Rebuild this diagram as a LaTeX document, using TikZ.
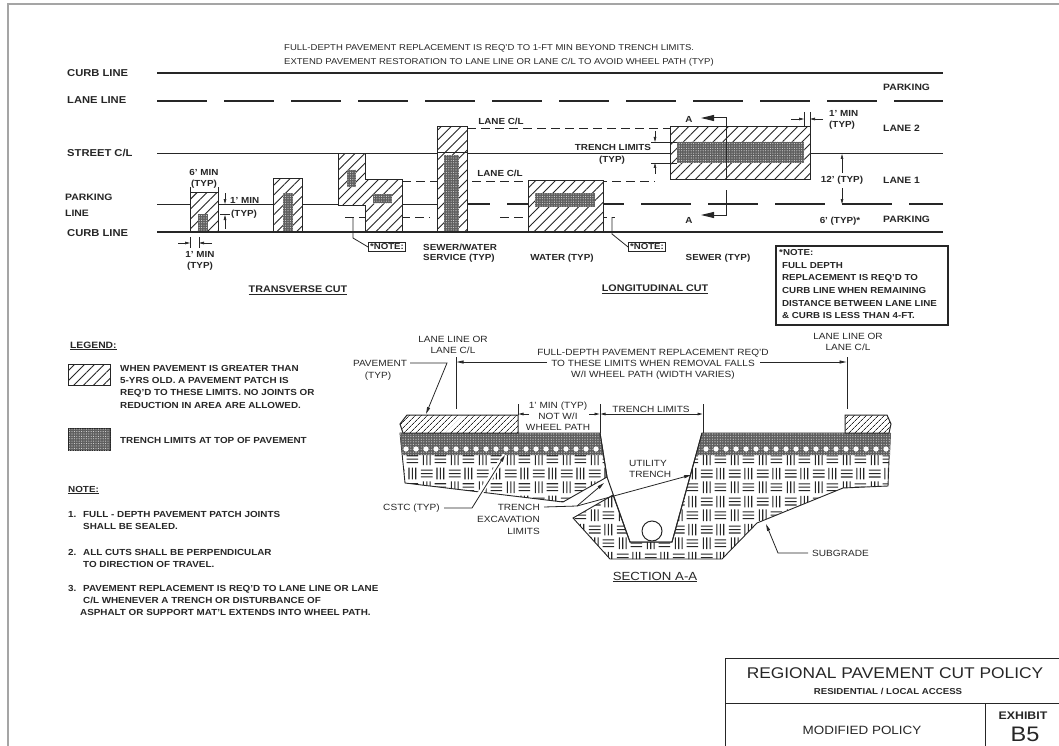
\documentclass[tikz,border=0pt]{standalone}
\usepackage{fontspec}
\setmainfont{Liberation Sans}[FakeStretch=1.12]
\usetikzlibrary{arrows.meta, patterns.meta, positioning}
\definecolor{ink}{RGB}{38, 38, 38}
\definecolor{framegray}{RGB}{165, 165, 165}
\definecolor{trenchgray}{RGB}{95, 95, 95}

% basket weave for soil / subgrade
\pgfdeclarepatternformonly{weave}{\pgfqpoint{0pt}{0pt}}{\pgfqpoint{28pt}{28pt}}{\pgfqpoint{28pt}{28pt}}{%
  \pgfsetlinewidth{1.1pt}%
  \pgfpathmoveto{\pgfqpoint{3.5pt}{1pt}}\pgfpathlineto{\pgfqpoint{3.5pt}{13pt}}%
  \pgfpathmoveto{\pgfqpoint{7pt}{1pt}}\pgfpathlineto{\pgfqpoint{7pt}{13pt}}%
  \pgfpathmoveto{\pgfqpoint{10.5pt}{1pt}}\pgfpathlineto{\pgfqpoint{10.5pt}{13pt}}%
  \pgfpathmoveto{\pgfqpoint{15pt}{3.5pt}}\pgfpathlineto{\pgfqpoint{27pt}{3.5pt}}%
  \pgfpathmoveto{\pgfqpoint{15pt}{7pt}}\pgfpathlineto{\pgfqpoint{27pt}{7pt}}%
  \pgfpathmoveto{\pgfqpoint{15pt}{10.5pt}}\pgfpathlineto{\pgfqpoint{27pt}{10.5pt}}%
  \pgfpathmoveto{\pgfqpoint{1pt}{17.5pt}}\pgfpathlineto{\pgfqpoint{13pt}{17.5pt}}%
  \pgfpathmoveto{\pgfqpoint{1pt}{21pt}}\pgfpathlineto{\pgfqpoint{13pt}{21pt}}%
  \pgfpathmoveto{\pgfqpoint{1pt}{24.5pt}}\pgfpathlineto{\pgfqpoint{13pt}{24.5pt}}%
  \pgfpathmoveto{\pgfqpoint{17.5pt}{15pt}}\pgfpathlineto{\pgfqpoint{17.5pt}{27pt}}%
  \pgfpathmoveto{\pgfqpoint{21pt}{15pt}}\pgfpathlineto{\pgfqpoint{21pt}{27pt}}%
  \pgfpathmoveto{\pgfqpoint{24.5pt}{15pt}}\pgfpathlineto{\pgfqpoint{24.5pt}{27pt}}%
  \pgfusepath{stroke}}

\tikzset{
  curb/.style={ink, line width=2pt},
  laneline/.style={ink, line width=1.1pt, dash pattern=on 50pt off 17pt},
  cline/.style={ink, line width=0.9pt, dash pattern=on 9pt off 5pt},
  road/.style={ink, line width=0.9pt},
  patch/.style={draw=ink, line width=1pt, fill=white, postaction={pattern={Lines[angle=45, distance=7pt, line width=0.9pt]}, pattern color=ink}},
  slab/.style={draw=ink, line width=1pt, fill=white, postaction={pattern={Lines[angle=45, distance=4pt, line width=0.8pt]}, pattern color=ink}},
  trench/.style={fill=trenchgray, postaction={pattern={Dots[distance=2.4pt, radius=0.55pt]}, pattern color=white!85!black}},
  band/.style={fill=trenchgray, postaction={pattern={Dots[distance=2.6pt, radius=0.6pt]}, pattern color=white!80!black}},
  soil/.style={draw=ink, line width=0.9pt, fill=white, postaction={pattern=weave, pattern color=ink}},
  dimarr/.style={ink, line width=0.7pt, -{Triangle[length=5pt, width=2.6pt]}},
  dimboth/.style={ink, line width=0.7pt, {Triangle[length=5pt, width=2.6pt]}-{Triangle[length=5pt, width=2.6pt]}},
  secarr/.style={ink, line width=1pt, -{Triangle[length=13pt, width=6pt]}},
  ldr/.style={ink, line width=0.8pt, -{Triangle[length=7pt, width=3pt]}},
  rowlbl/.style={text=ink, inner sep=0pt, font=\fontsize{10}{12}\selectfont\bfseries},
  lbl/.style={text=ink, inner sep=0pt, font=\fontsize{8.8}{12.4}\selectfont\bfseries},
  hdr/.style={text=ink, inner sep=0pt, font=\fontsize{8.5}{10}\selectfont},
  sec/.style={text=ink, inner sep=0pt, font=\fontsize{9}{11.2}\selectfont},
  notebox/.style={draw=ink, line width=1.1pt, inner sep=1.5pt, text=ink, font=\fontsize{8.6}{10}\selectfont\bfseries}
}

\begin{document}
\begin{tikzpicture}[x=1pt, y=-1pt]
\useasboundingbox (0,0) rectangle (1059,746);
% sheet border
\draw[framegray, line width=1.2pt] (8,746) -- (8,4) -- (1059,4);

% ===== plan view =====
\node[hdr, anchor=west] (head1) at (284,48) {FULL-DEPTH PAVEMENT REPLACEMENT IS REQ'D TO 1-FT MIN BEYOND TRENCH LIMITS.};
\node[hdr, anchor=west] (head2) at (284,62) {EXTEND PAVEMENT RESTORATION TO LANE LINE OR LANE C/L TO AVOID WHEEL PATH (TYP)};

% row names
\node[rowlbl, anchor=west] (curbA) at (67,73) {CURB LINE};
\node[rowlbl, anchor=west] (laneA) at (67,100) {LANE LINE};
\node[rowlbl, anchor=west] (streetcl) at (67,153) {STREET C/L};
\node[rowlbl, anchor=west, font=\fontsize{9.3}{12}\selectfont\bfseries] (parkA) at (65,197) {PARKING};
\node[rowlbl, anchor=west, font=\fontsize{9.3}{12}\selectfont\bfseries] (parkB) at (65,213) {LINE};
\node[rowlbl, anchor=west] (curbB) at (67,233) {CURB LINE};
\node[lbl, anchor=west, font=\fontsize{9.2}{12}\selectfont\bfseries] (zoneA) at (883,87) {PARKING};
\node[lbl, anchor=west, font=\fontsize{9.2}{12}\selectfont\bfseries] (zoneB) at (883,128) {LANE 2};
\node[lbl, anchor=west, font=\fontsize{9.2}{12}\selectfont\bfseries] (zoneC) at (883,180) {LANE 1};
\node[lbl, anchor=west, font=\fontsize{9.2}{12}\selectfont\bfseries] (zoneD) at (883,219) {PARKING};

% road lines
\draw[curb] (157,73) -- (943,73);
\draw[laneline] (157,101) -- (943,101);
\draw[road] (157,153) -- (943,153);
\draw[road] (157,204) -- (440,204);
\draw[laneline] (440,204) -- (943,204);
\draw[cline] (467,128) -- (670,128);
\draw[cline] (402,181) -- (655,181);
\draw[cline] (345,217) -- (430,217);
\draw[cline] (500,217) -- (615,217);

% transverse cuts
\draw[patch] (190,192) rectangle (218,232);
\fill[trench] (198,214) rectangle (208,231);
\draw[patch] (273,179) rectangle (302,232);
\fill[trench] (283,193) rectangle (293,231);
\draw[patch] (338,154) -- (365,154) -- (365,180) -- (402,180) -- (402,232) -- (365,232) -- (365,205) -- (338,205) -- cycle;
\fill[trench] (347,170) rectangle (356,187);
\fill[trench] (373,194) rectangle (392,203);
\draw[patch] (437,127) rectangle (467,153);
\draw[patch] (437,153) rectangle (467,232);
\fill[trench] (444,155) rectangle (459,231);
% longitudinal cuts
\draw[patch] (528,181) rectangle (603,232);
\fill[trench] (535,193) rectangle (595,207);
\draw[patch] (670,127) rectangle (810,180);
\fill[trench] (677,142) rectangle (804,163);
\draw[curb] (157,232) -- (943,232);

% section line A-A
\draw[secarr] (726,180) -- (726,118) -- (701,118);
\draw[secarr] (726,190) -- (726,215) -- (701,215);
\node[lbl] (cutA) at (689,119) {A};
\node[lbl] (cutB) at (689,220) {A};

% dimensions, transverse
\draw[road, line width=0.7pt] (190,187) -- (190,192) (218,187) -- (218,192);
\node[lbl] (w6a) at (204,172) {6' MIN};
\node[lbl] (w6b) at (204,184) {(TYP)};
\draw[dimarr] (225,193) -- (225,204);
\draw[dimarr] (225,229) -- (225,215);
\draw[road, line width=0.7pt] (220,214) -- (230,214);
\node[lbl, anchor=west] (d1a) at (230,200) {1' MIN};
\node[lbl, anchor=west] (d1b) at (231,214) {(TYP)};
\draw[road, line width=0.7pt] (190,237) -- (190,248) (199,237) -- (199,248);
\draw[dimarr] (178,243) -- (190,243);
\draw[dimarr] (212,243) -- (199,243);
\node[lbl] (e1a) at (200,254) {1' MIN};
\node[lbl] (e1b) at (200,266) {(TYP)};

% dimensions, longitudinal
\node[lbl] (lcl1) at (501,121) {LANE C/L};
\node[lbl] (lcl2) at (500,173) {LANE C/L};
\node[lbl] (tl1) at (613,147) {TRENCH LIMITS};
\node[lbl] (tl2) at (612,160) {(TYP)};
\draw[dimarr] (655,131) -- (655,142);
\draw[dimarr] (655,174) -- (655,163);
\draw[road, line width=0.7pt] (651,142) -- (677,142) (651,163) -- (677,163);
\draw[road, line width=0.7pt] (804,112) -- (804,126) (810,112) -- (810,126);
\draw[dimarr] (791,119) -- (804,119);
\draw[dimarr] (823,119) -- (810,119);
\node[lbl, anchor=west] (m1a) at (829,113) {1' MIN};
\node[lbl, anchor=west] (m1b) at (829,125) {(TYP)};
\draw[dimarr] (842,173) -- (842,154);
\draw[dimarr] (842,188) -- (842,204);
\node[lbl] (w12) at (842,180) {12' (TYP)};
\node[lbl] (w6) at (840,221) {6' (TYP)*};

% note flags
\node[notebox] (flagA) at (387,247) {*NOTE:};
\draw[road, line width=0.8pt] (353,217) -- (353,238) -- (flagA.west);
\node[notebox] (flagB) at (647,247) {*NOTE:};
\draw[road, line width=0.8pt] (612,217) -- (612,234) -- (flagB.west);

% cut names
\node[lbl, anchor=west] (svc1) at (423,247) {SEWER/WATER};
\node[lbl, anchor=west] (svc2) at (423,258) {SERVICE (TYP)};
\node[lbl] (wtr) at (562,258) {WATER (TYP)};
\node[lbl] (swr) at (718,258) {SEWER (TYP)};
\node[lbl, font=\fontsize{9.6}{12}\selectfont\bfseries] (trans) at (298,290) {\underline{TRANSVERSE CUT}};
\node[lbl, font=\fontsize{9.6}{12}\selectfont\bfseries] (longi) at (655,289) {\underline{LONGITUDINAL CUT}};

% remark box
\draw[road, line width=1.1pt] (776,246) rectangle (948,325);
\node[lbl, anchor=north west, align=left, font=\fontsize{8.7}{12.6}\selectfont\bfseries] (remark) at (779,249.5)
  {*NOTE:\\ \hspace*{3pt}FULL DEPTH\\ \hspace*{3pt}REPLACEMENT IS REQ'D TO\\ \hspace*{3pt}CURB LINE WHEN REMAINING\\ \hspace*{3pt}DISTANCE BETWEEN LANE LINE\\ \hspace*{3pt}\& CURB IS LESS THAN 4-FT.};

% ===== legend and notes =====
\node[lbl, anchor=west, font=\fontsize{9.2}{12}\selectfont\bfseries] (legend) at (70,346) {\underline{LEGEND:}};
\draw[patch] (68,364) rectangle (110,385);
\node[lbl, anchor=north west, align=left] (legA) at (120,364.8)
  {WHEN PAVEMENT IS GREATER THAN\\5-YRS OLD. A PAVEMENT PATCH IS\\REQ'D TO THESE LIMITS. NO JOINTS OR\\REDUCTION IN AREA ARE ALLOWED.};
\draw[ink, line width=1pt, trench] (68,428) rectangle (110,450);
\node[lbl, anchor=west] (legB) at (120,440) {TRENCH LIMITS AT TOP OF PAVEMENT};
\node[lbl, anchor=west] (notes) at (68,490) {\underline{NOTE:}};
\node[lbl, anchor=west] (n1) at (68,514) {1.};
\node[lbl, anchor=north west, align=left] (n1t) at (83,510.8) {FULL - DEPTH PAVEMENT PATCH JOINTS\\SHALL BE SEALED.};
\node[lbl, anchor=west] (n2) at (68,552) {2.};
\node[lbl, anchor=north west, align=left] (n2t) at (83,548.8) {ALL CUTS SHALL BE PERPENDICULAR\\TO DIRECTION OF TRAVEL.};
\node[lbl, anchor=west] (n3) at (68,588) {3.};
\node[lbl, anchor=north west, align=left] (n3t) at (83,584.8) {PAVEMENT REPLACEMENT IS REQ'D TO LANE LINE OR LANE\\C/L WHENEVER A TRENCH OR DISTURBANCE OF\\\hspace*{-3pt}ASPHALT OR SUPPORT MAT'L EXTENDS INTO WHEEL PATH.};

% ===== section A-A =====
% soil and subgrade
\draw[soil] (400,433) -- (600,433) -- (607,477) -- (563,502) -- (405,483) -- cycle;
\draw[soil] (613,495) -- (630,542) -- (672,542) -- (702,433) -- (890,433) -- (888,486) -- (843,488) -- (757,523) -- (722,559) -- (610,559) -- (573,518) -- cycle;
% CSTC base
\fill[band] (400,433) -- (600,433) -- (604,455) -- (402,455) -- cycle;
\fill[band] (702,433) -- (891,433) -- (890,455) -- (696,455) -- cycle;
\foreach \x in {406,416,...,596} \fill[white] (\x,449) circle[radius=2.6pt];
\foreach \x in {706,716,...,886} \fill[white] (\x,449) circle[radius=2.6pt];
% asphalt
\draw[slab] (407,415) -- (518,415) -- (518,433) -- (403,433) -- (400,424) -- cycle;
\draw[slab] (845,415) -- (887,415) -- (891,424) -- (889,433) -- (845,433) -- cycle;
% trench and pipe
\draw[road, line width=1pt] (600,433) -- (607,477) -- (630,542) -- (672,542) -- (702,433);
\draw[road, line width=1pt, fill=white] (652,531) circle[radius=10pt];
\node[sec, anchor=west, align=left] (util) at (629,469) {UTILITY\\TRENCH};

% limits above the section
\node[sec, align=center] (llA) at (453,345) {LANE LINE OR\\LANE C/L};
\node[sec, align=center] (llB) at (848,342) {LANE LINE OR\\LANE C/L};
\node[sec, align=center] (fdpr) at (653,364) {FULL-DEPTH PAVEMENT REPLACEMENT REQ'D\\TO THESE LIMITS WHEN REMOVAL FALLS\\W/I WHEEL PATH (WIDTH VARIES)};
\draw[road] (456,357) -- (456,409);
\draw[road] (847,357) -- (847,409);
\draw[ldr] (547,362) -- (456.5,362);
\draw[ldr] (760,362) -- (846.5,362);
\node[sec] (pave1) at (380,363) {PAVEMENT};
\node[sec] (pave2) at (378,376) {(TYP)};
\coordinate (paveTip) at (426,414);
\draw[ldr] ([xshift=3pt]pave1.east) -- (447,363) -- (paveTip);

% 1' min and trench limits
\draw[road, line width=0.7pt] (518,404) -- (518,415);
\draw[road, line width=0.7pt] (600,404) -- (600,433);
\draw[road, line width=0.7pt] (703,404) -- (703,433);
\draw[dimarr] (529,414) -- (518.5,414);
\draw[dimarr] (589,414) -- (599.5,414);
\node[sec, align=center] (minpath) at (558,416.5) {1' MIN (TYP)\\NOT W/I\\WHEEL PATH};
\draw[dimboth] (600.5,414) -- (702.5,414);
\node[sec] (tlim) at (651,409) {TRENCH LIMITS};

% leaders below the section
\node[sec, anchor=east] (cstc) at (440,508) {CSTC (TYP)};
\coordinate (cstcTip) at (505,455);
\draw[white, line width=5pt] (472,506) -- (cstcTip);
\draw[ldr] ([xshift=4pt]cstc.east) -- (472,508) -- (cstcTip);
\node[sec, anchor=east] (exc1) at (540,507) {TRENCH};
\node[sec, anchor=east] (exc2) at (540,519) {EXCAVATION};
\node[sec, anchor=east] (exc3) at (540,531) {LIMITS};
\coordinate (excK) at (577,506);
\coordinate (excL) at (604,483);
\coordinate (excR) at (691,475);
\draw[road, line width=0.8pt] ([xshift=4pt]exc1.east) -- (excK);
\draw[ldr] (excK) -- (excL);
\draw[ldr] (excK) -- (excR);
\node[sec, anchor=west] (subg) at (812,553) {SUBGRADE};
\coordinate (subgTip) at (766,524);
\draw[ldr] ([xshift=-4pt]subg.west) -- (778,553) -- (subgTip);
\node[sec, font=\fontsize{11.8}{14}\selectfont] (secAA) at (655,577) {\underline{SECTION A-A}};

% ===== title block =====
\draw[road, line width=1pt] (725,746) -- (725,658) -- (1059,658);
\draw[road, line width=1pt] (725,703) -- (1059,703);
\draw[road, line width=1pt] (985,703) -- (985,746);
\node[text=ink, font=\fontsize{15.5}{18}\selectfont] (ttl) at (895,673) {REGIONAL PAVEMENT CUT POLICY};
\node[text=ink, font=\fontsize{8.6}{10}\selectfont\bfseries] (ttlsub) at (888,691) {RESIDENTIAL / LOCAL ACCESS};
\node[text=ink, font=\fontsize{12}{14}\selectfont] (mod) at (862,730) {MODIFIED POLICY};
\node[text=ink, font=\fontsize{11}{13}\selectfont\bfseries] (exh) at (1023,716) {EXHIBIT};
\node[text=ink, font=\fontsize{21}{24}\selectfont, inner sep=1pt] (exno) at (1025,734) {B5};
\end{tikzpicture}
\end{document}
